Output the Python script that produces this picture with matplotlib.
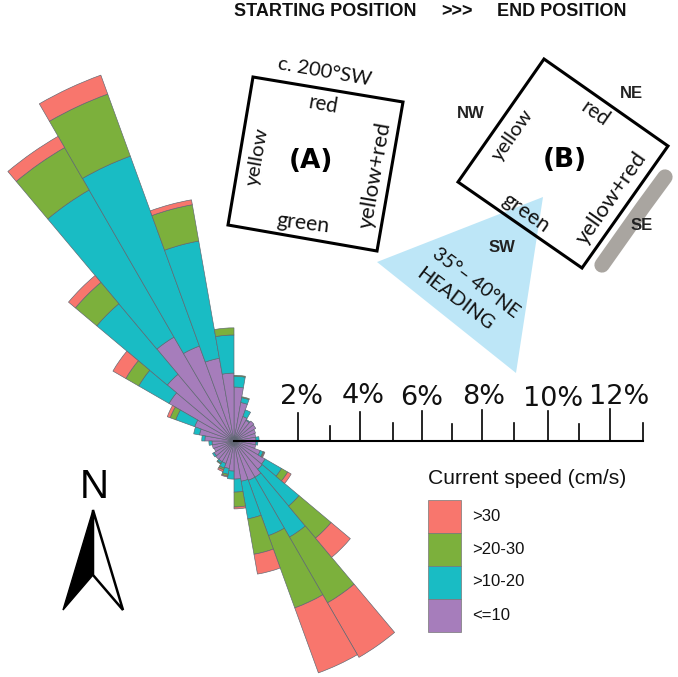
import numpy as np
import matplotlib
matplotlib.use('Agg')
import matplotlib.pyplot as plt
from matplotlib.patches import Polygon, Rectangle

# Rose diagram values, frequency in % per 10 degree bin
directions = [5, 15, 25, 35, 45, 55, 65, 75, 85, 95, 105, 115,
              125, 135, 145, 155, 165, 175, 185, 195, 205, 215, 225, 235,
              245, 255, 265, 275, 285, 295, 305, 315, 325, 335, 345, 355]
speed_le10 = [1.74, 1.26, .84, .77, .84, .81, .74, .71, .71, .71, .71, .90,
              1.16, 1.19, 1.35, 1.35, 1.32, 1.23, .97, .90, .77, .77, .77, .74,
              .68, .71, .71, .94, 1.13, 1.35, 2.42, 2.81, 3.87, 3.26, 2.71, 2.19]
speed_10_20 = [.35, .16, .23, .03, 0, 0, 0, 0, .10, .06, 0, .10,
               .61, 1.55, 2.23, 1.90, 1.23, .42, .26, .19, .16, .06, 0, .06,
               0, 0, .10, .10, .19, .65, 1.13, 2.97, 5.48, 6.52, 3.84, 1.23]
speed_20_30 = [.03, .03, 0, 0, 0, 0, 0, 0, 0, 0, 0, .03,
               .23, 1.35, 2.45, 2.48, 1.16, .48, 0, .06, .06, .03, 0, 0,
               0, 0, 0, 0, 0, .19, .48, .90, 1.58, 2.13, 1.19, .23]
speed_gt30 = [0, 0, 0, 0, 0, 0, 0, 0, 0, 0, 0, .03,
              .13, .81, 2.03, 2.23, .65, .06, 0, .03, .06, 0, 0, 0,
              0, 0, 0, 0, 0, .10, .48, .29, .42, .65, .16, 0]

legend_labels = ['>30', '>20-30', '>10-20', '<=10']
colors = ['#F8766D', '#7CB03C', '#19BCC4', '#A67DBB']
scale_labels = ['2%', '4%', '6%', '8%', '10%', '12%']

W, H = 678, 677
cx, cy = 234, 441
px_per_pct = 31
rmax = 13

fig = plt.figure(figsize=(W / 100, H / 100), dpi=100)

# Polar axes for the rose, placed so the origin falls on the scale bar
R = rmax * px_per_pct
ax = fig.add_axes([(cx - R) / W, (H - cy - R) / H, 2 * R / W, 2 * R / H], projection='polar')
ax.set_theta_zero_location('N')
ax.set_theta_direction(-1)
ax.set_ylim(0, rmax)
ax.axis('off')

theta = np.radians(directions)
bottom = np.zeros(len(directions))
for vals, col in zip([speed_le10, speed_10_20, speed_20_30, speed_gt30], colors[::-1]):
    vals = np.array(vals)
    keep = vals > 0  # empty classes would leave a stray arc
    ax.bar(theta[keep], vals[keep], width=np.radians(10), bottom=bottom[keep], color=col,
           edgecolor='#5d6670', linewidth=0.45, clip_on=False)
    bottom += vals

# Overlay in pixel coordinates for the drawn annotations
ov = fig.add_axes([0, 0, 1, 1])
ov.set_xlim(0, W)
ov.set_ylim(H, 0)
ov.axis('off')

sans = 'Liberation Sans'
geo = 'Lato'

# header
for x, s in [(325, 'STARTING POSITION'), (457, '>>>'), (562, 'END POSITION')]:
    ov.text(x, 12, s, family=sans, weight='bold', fontsize=13, ha='center', va='center', color='#111111')

# heading triangle and shore line go under box B
ov.add_patch(Polygon([(543, 197), (377, 262), (516, 373)], closed=True, fc='#BDE6F7', ec='none'))
ov.plot([665, 643, 602], [177, 207, 265], color='#A9A5A0', lw=11, solid_capstyle='round', solid_joinstyle='round')

ov.add_patch(Polygon([(253, 77), (403, 102), (377, 251), (228, 225)], closed=True, fc='none', ec='black', lw=2.2))
ov.add_patch(Polygon([(544, 59), (668, 146), (582, 268), (458, 182)], closed=True, fc='none', ec='black', lw=2.2))

box_text = [
    (325, 72, 'c. 200°SW', -10, 14.5),
    (323, 105, 'red', -10, 14.8),
    (258, 157, 'yellow', 80, 14.7),
    (375, 175, 'yellow+red', 80, 15.8),
    (303, 223, 'green', -7, 15.3),
    (595, 114, 'red', -35, 14.8),
    (513, 135, 'yellow', 55, 14.7),
    (612, 198, 'yellow+red', 55, 15.8),
    (526, 213, 'green', -35, 15.3),
    (476, 283, '35°– 40°NE', -37, 14),
    (455, 299, 'HEADING', -37, 14.4),
]
for x, y, s, rot, fs in box_text:
    ov.text(x, y, s, family=geo, fontsize=fs, rotation=rot, rotation_mode='anchor',
            ha='center', va='center', color='#111111')

ov.text(311, 161, '(A)', family='DejaVu Sans', weight='bold', fontsize=19, ha='center', va='center')
ov.text(565, 160, '(B)', family='DejaVu Sans', weight='bold', fontsize=19, ha='center', va='center')

for x, y, s in [(471, 114, 'NW'), (631, 93, 'NE'), (642, 226, 'SE'), (502, 247, 'SW')]:
    ov.text(x, y, s, family=sans, weight='bold', fontsize=12, ha='center', va='center', color='#222222')

# percent scale bar
ov.plot([cx, 643], [cy, cy], color='black', lw=1.5)
major_x = [298, 360, 422, 482, 548, 610]
major_top = [413, 412, 411, 410, 411, 409]
minor_x = [330, 393, 452, 514, 579, 643]
minor_top = [426, 423, 424, 423, 424, 423]
for x, t in zip(major_x + minor_x, major_top + minor_top):
    ov.plot([x, x], [t, cy], color='black', lw=1.2)
label_x = [302, 363, 422, 484, 553, 619]
label_y = [397, 396, 398, 397, 399, 397]
for x, y, s in zip(label_x, label_y, scale_labels):
    ov.text(x, y, s, family='DejaVu Sans', fontsize=19.5, ha='center', va='center', color='#111111')

# legend
ov.text(527, 479, 'Current speed (cm/s)', family=sans, fontsize=15.2, ha='center', va='center', color='#111111')
swatch_y = [500, 532.5, 565.5, 598.5, 632]
for i, (lab, col) in enumerate(zip(legend_labels, colors)):
    ov.add_patch(Rectangle((428, swatch_y[i]), 33, swatch_y[i + 1] - swatch_y[i], fc=col, ec='#777777', lw=0.5))
    ov.text(472, (swatch_y[i] + swatch_y[i + 1]) / 2, lab, family=sans, fontsize=12, ha='left', va='center', color='#111111')

# north arrow
ov.text(94, 487, 'N', family=sans, fontsize=29, ha='center', va='center', color='black')
ov.add_patch(Polygon([(93, 510), (63, 610), (93, 575)], closed=True, fc='black', ec='black', lw=1))
ov.add_patch(Polygon([(93, 510), (123, 610), (93, 575)], closed=True, fc='white', ec='black', lw=1.8, joinstyle='miter'))

fig.savefig('out.png', dpi=100)
